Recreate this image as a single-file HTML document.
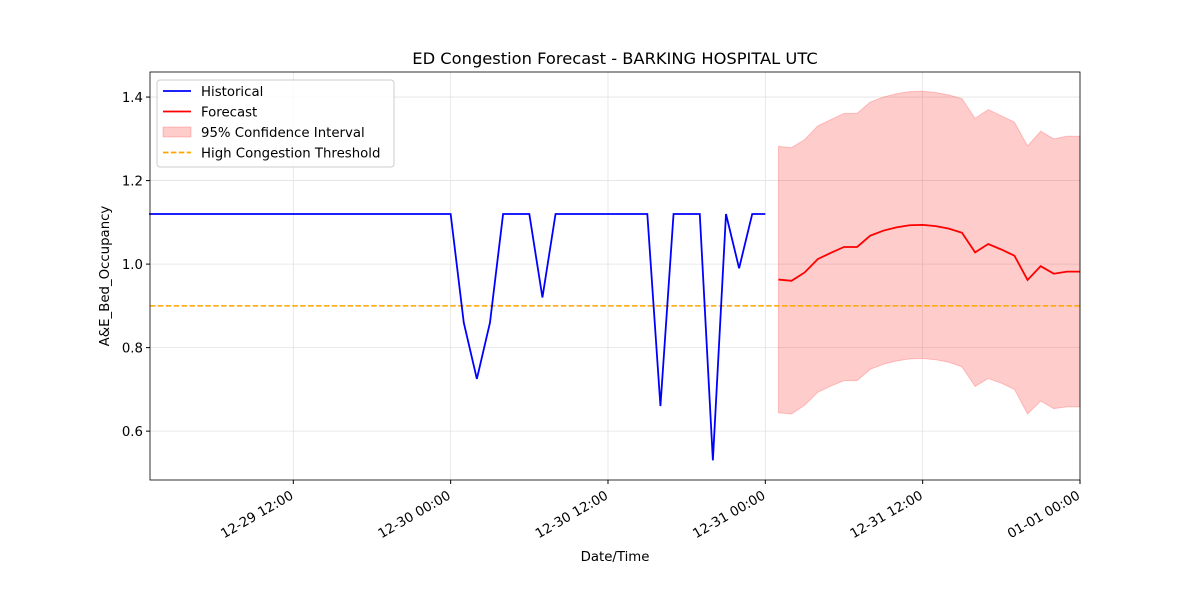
<!DOCTYPE html>
<html><head><meta charset="utf-8"><style>
body{margin:0;background:#fff;font-family:"Liberation Sans","DejaVu Sans",sans-serif}
svg text{font-family:"DejaVu Sans","Liberation Sans",sans-serif}
</style></head><body>
<svg id="c" width="1200" height="600" xmlns="http://www.w3.org/2000/svg"></svg>
<script>
const histHours=[1,2,3,4,5,6,7,8,9,10,11,12,13,14,15,16,17,18,19,20,21,22,23,24,25,26,27,28,29,30,31,32,33,34,35,36,37,38,39,40,41,42,43,44,45,46,47,48];
const histValues=[1.12,1.12,1.12,1.12,1.12,1.12,1.12,1.12,1.12,1.12,1.12,1.12,1.12,1.12,1.12,1.12,1.12,1.12,1.12,1.12,1.12,1.12,1.12,1.12,0.86,0.725,0.86,1.12,1.12,1.12,0.92,1.12,1.12,1.12,1.12,1.12,1.12,1.12,1.12,0.66,1.12,1.12,1.12,0.53,1.12,0.99,1.12,1.12];
const fcHours=[49,50,51,52,53,54,55,56,57,58,59,60,61,62,63,64,65,66,67,68,69,70,71,72];
const fcValues=[0.963,0.960,0.980,1.012,1.027,1.041,1.041,1.068,1.080,1.088,1.093,1.094,1.091,1.085,1.075,1.028,1.048,1.035,1.020,0.962,0.995,0.977,0.982,0.982];
const fcUpper=[1.282,1.279,1.298,1.331,1.346,1.361,1.361,1.388,1.400,1.408,1.413,1.414,1.411,1.405,1.396,1.349,1.370,1.355,1.340,1.283,1.318,1.300,1.306,1.306];
const fcLower=[0.644,0.641,0.662,0.693,0.708,0.721,0.721,0.748,0.760,0.768,0.773,0.774,0.771,0.765,0.754,0.707,0.726,0.715,0.700,0.641,0.672,0.654,0.658,0.658];
const threshold=0.9;
const yTicks=[0.6,0.8,1.0,1.2,1.4];
const xTickHours=[12,24,36,48,60,72];
const xTickLabels=["12-29 12:00","12-30 00:00","12-30 12:00","12-31 00:00","12-31 12:00","01-01 00:00"];

const L=150,R=1080,T=72,B=480;
const xMin=1.07,xMax=72,yMin=0.483,yMax=1.46;
const X=h=>L+(h-xMin)/(xMax-xMin)*(R-L);
const Y=v=>B-(v-yMin)/(yMax-yMin)*(B-T);
const svg=document.getElementById('c');
const NS='http://www.w3.org/2000/svg';
const FS=13.3;
function add(tag,attrs,name,txt){const e=document.createElementNS(NS,tag);for(const k in attrs)e.setAttribute(k,attrs[k]);


if(txt!==undefined)e.textContent=txt;svg.appendChild(e);return e;}

add('text',{x:615,y:64,'text-anchor':'middle','font-size':16.3,fill:'#000'},'chart-title','ED Congestion Forecast - BARKING HOSPITAL UTC');
yTicks.forEach(v=>{add('line',{x1:L,x2:R,y1:Y(v),y2:Y(v),stroke:'#e3e3e3','stroke-width':0.8},'y-grid-line');
add('line',{x1:L-4,x2:L,y1:Y(v),y2:Y(v),stroke:'#000'},'y-tick');
add('text',{x:L-7,y:Y(v)+5,'text-anchor':'end','font-size':FS},'y-tick-label',v.toFixed(1));});
xTickHours.forEach((h,i)=>{const x=X(h);add('line',{x1:x,x2:x,y1:T,y2:B,stroke:'#e3e3e3','stroke-width':0.8},'x-grid-line');
add('line',{x1:x,x2:x,y1:B,y2:B+4,stroke:'#000'},'x-tick');
const ax=x+1,ay=B+18;
add('text',{x:ax,y:ay,'text-anchor':'end','font-size':FS,transform:`rotate(-30 ${ax} ${ay})`},'x-tick-label',xTickLabels[i]);});
let d='M'+fcHours.map((h,i)=>X(h)+','+Y(fcUpper[i])).join('L');
for(let i=fcHours.length-1;i>=0;i--)d+='L'+X(fcHours[i])+','+Y(fcLower[i]);
add('path',{d:d+'Z',fill:'#ff0000','fill-opacity':0.2,stroke:'#ff0000','stroke-opacity':0.2},'confidence-interval');
add('line',{x1:L,x2:R,y1:Y(threshold),y2:Y(threshold),stroke:'orange','stroke-width':1.5,'stroke-dasharray':'5.5,2.4'},'threshold-line');
add('polyline',{points:histHours.map((h,i)=>X(h)+','+Y(histValues[i])).join(' '),fill:'none',stroke:'#0000ff','stroke-width':1.8},'historical-line');
add('polyline',{points:fcHours.map((h,i)=>X(h)+','+Y(fcValues[i])).join(' '),fill:'none',stroke:'#ff0000','stroke-width':1.8},'forecast-line');
add('rect',{x:L,y:T,width:R-L,height:B-T,fill:'none',stroke:'#000','stroke-width':0.8},'plot-frame');
add('text',{x:615,y:561,'text-anchor':'middle','font-size':FS},'x-axis-title','Date/Time');
add('text',{x:109,y:276,'text-anchor':'middle','font-size':FS,transform:'rotate(-90 109 276)'},'y-axis-title','A&E_Bed_Occupancy');
add('rect',{x:157,y:80,width:237,height:87,rx:3,fill:'#fff','fill-opacity':0.8,stroke:'#ccc'},'legend-box');
const items=[['Historical','line','#0000ff'],['Forecast','line','#ff0000'],['95% Confidence Interval','patch','#ff0000'],['High Congestion Threshold','dash','orange']];
items.forEach((it,i)=>{const y=91+i*20.5;
if(it[1]==='patch')add('rect',{x:163,y:y-5,width:28,height:10,fill:'#ff0000','fill-opacity':0.2,stroke:'#ff0000','stroke-opacity':0.2},'legend-swatch');
else add('line',{x1:163,x2:191,y1:y,y2:y,stroke:it[2],'stroke-width':1.8,'stroke-dasharray':it[1]==='dash'?'5.5,2.4':'none'},'legend-swatch');
add('text',{x:201,y:y+5,'font-size':FS},'legend-entry',it[0]);});
</script>
</body></html>
